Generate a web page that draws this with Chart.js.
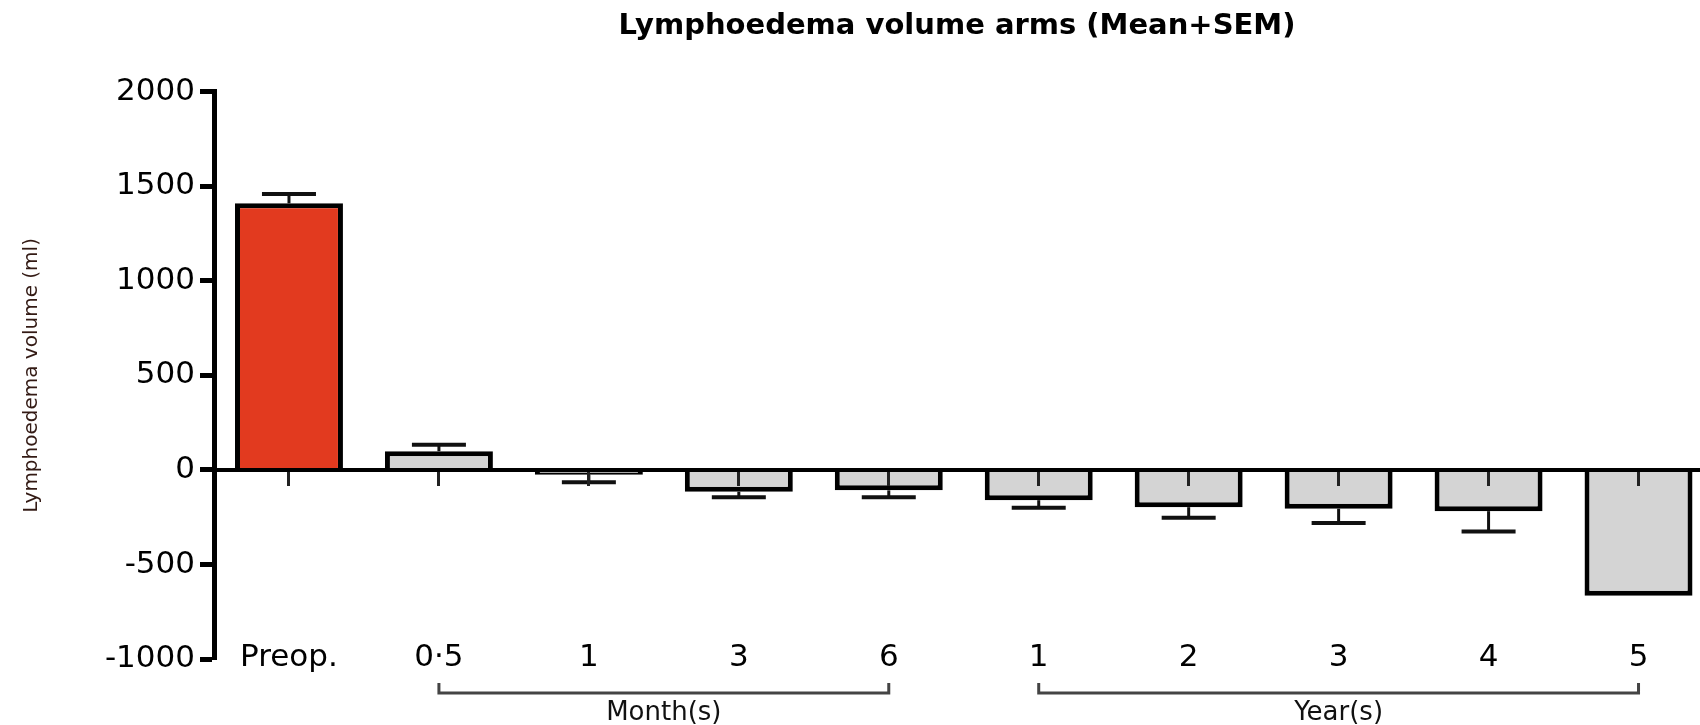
<!DOCTYPE html>
<html>
<head>
<meta charset="utf-8">
<script src="https://cdn.jsdelivr.net/npm/chart.js@4"></script>
<style>
  html, body { margin: 0; padding: 0; background: #fff; }
  #wrap { width: 1700px; height: 725px; }
</style>
</head>
<body>
<div id="wrap"><canvas id="grafico"></canvas></div>
<script>
const labels = ['Preop.', '0·5', '1', '3', '6', '1', '2', '3', '4', '5']
const means = [1410, 99, -25, -115, -108, -160, -197, -205, -218, -665]
const sem = [50, 34, 40, 30, 36, 40, 56, 76, 107, 0]
const groups = ['Month(s)', 'Year(s)']
const groupStart = [1, 5]
const groupEnd = [4, 9]
const yTicks = [-1000, -500, 0, 500, 1000, 1500, 2000]

const FONT = 'DejaVu Sans'

// error bars go away from zero, like the original (mean + SEM)
const errorBars = {
  id: 'errorBars',
  afterDatasetsDraw(chart) {
    const { ctx, scales: { x, y } } = chart
    ctx.save()
    ctx.strokeStyle = '#111'
    means.forEach((m, i) => {
      if (!sem[i]) return
      const px = x.getPixelForValue(i)
      const y0 = y.getPixelForValue(m)
      const y1 = y.getPixelForValue(m + Math.sign(m) * sem[i])
      ctx.lineWidth = 3
      ctx.beginPath()
      ctx.moveTo(px, y0)
      ctx.lineTo(px, y1)
      ctx.stroke()
      ctx.lineWidth = 4
      ctx.beginPath()
      ctx.moveTo(px - 27, y1)
      ctx.lineTo(px + 27, y1)
      ctx.stroke()
    })
    ctx.restore()
  }
}

// brackets under the x labels: Month(s) / Year(s)
const groupBrackets = {
  id: 'groupBrackets',
  afterDraw(chart) {
    const { ctx, chartArea, scales: { x } } = chart
    const yLine = chartArea.bottom + 34
    ctx.save()
    ctx.strokeStyle = '#444'
    ctx.lineWidth = 3
    ctx.fillStyle = '#111'
    ctx.font = `26px "${FONT}"`
    ctx.textAlign = 'center'
    ctx.textBaseline = 'middle'
    groups.forEach((g, k) => {
      const x1 = x.getPixelForValue(groupStart[k])
      const x2 = x.getPixelForValue(groupEnd[k])
      ctx.beginPath()
      ctx.moveTo(x1, yLine - 10)
      ctx.lineTo(x1, yLine)
      ctx.lineTo(x2, yLine)
      ctx.lineTo(x2, yLine - 10)
      ctx.stroke()
      ctx.fillText(g, (x1 + x2) / 2, yLine + 20)
    })
    ctx.restore()
  }
}

new Chart(document.getElementById('grafico'), {
  type: 'bar',
  data: {
    datasets: [{
      data: means.map((v, i) => ({ x: i, y: v })),
      backgroundColor: means.map((_, i) => i === 0 ? '#E23A1F' : '#D4D4D4'),
      borderColor: '#000',
      borderWidth: 5,
      categoryPercentage: 1,
      barPercentage: 0.72
    }]
  },
  options: {
    responsive: true,
    maintainAspectRatio: false,
    animation: false,
    events: [],
    layout: { padding: { bottom: 66 } },
    plugins: {
      legend: { display: false },
      tooltip: { enabled: false },
      title: {
        display: true,
        text: 'Lymphoedema volume arms (Mean+SEM)',
        fullSize: false,
        color: '#000',
        font: { family: FONT, size: 29, weight: 'bold' },
        padding: { top: 9, bottom: 48 }
      }
    },
    scales: {
      x: {
        type: 'linear',
        position: { y: 0 },
        offset: false,
        min: -0.5,
        max: 9.41,
        afterBuildTicks: (scale) => {
          scale.ticks = labels.map((_, i) => ({ value: i }))
        },
        afterFit: (scale) => {
          scale.height = 0
          scale.paddingLeft = 0
          scale.paddingRight = 0
        },
        grid: { offset: false, drawOnChartArea: false, drawTicks: true, tickLength: 14, tickWidth: 3, tickColor: '#222', z: 1 },
        border: { display: true, color: '#000', width: 4, z: 1 },
        ticks: {
          padding: 155,
          color: '#000',
          maxRotation: 0,
          autoSkip: false,
          font: { family: FONT, size: 31 },
          callback: (v) => labels[v]
        }
      },
      y: {
        min: -1000,
        max: 2000,
        afterBuildTicks: (scale) => {
          scale.ticks = yTicks.map((v) => ({ value: v }))
        },
        afterFit: (scale) => {
          scale.width = 214
        },
        grid: { drawOnChartArea: false, drawTicks: true, tickLength: 14, tickWidth: 5, tickColor: '#000' },
        border: { display: true, color: '#000', width: 5 },
        ticks: {
          padding: 5,
          color: '#000',
          font: { family: FONT, size: 31 },
          callback: (v) => String(v)
        },
        title: {
          display: true,
          text: 'Lymphoedema volume (ml)',
          color: '#331a14',
          font: { family: FONT, size: 20 },
          padding: { top: 20 }
        }
      }
    }
  },
  plugins: [errorBars, groupBrackets]
})
</script>
</body>
</html>
